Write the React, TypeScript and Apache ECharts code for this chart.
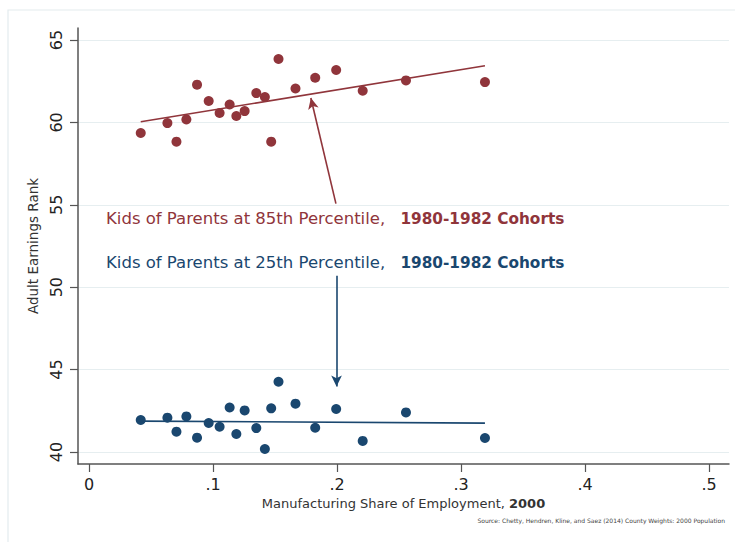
import React, { useEffect, useRef } from 'react';
import * as echarts from 'echarts';

// Manufacturing share of employment (bins)
const shares = [0.0416, 0.0631, 0.0704, 0.0784, 0.087, 0.0964, 0.1052, 0.1133, 0.1187, 0.1254, 0.1348, 0.1417, 0.1468, 0.1527, 0.1664, 0.1823, 0.1992, 0.2206, 0.2555, 0.3192];
// Adult earnings rank, kids of parents at 85th percentile
const rank85 = [59.36, 59.96, 58.83, 60.18, 62.29, 61.3, 60.57, 61.09, 60.39, 60.69, 61.78, 61.54, 58.83, 63.85, 62.06, 62.71, 63.18, 61.92, 62.55, 62.45];
// Adult earnings rank, kids of parents at 25th percentile
const rank25 = [41.94, 42.08, 41.23, 42.16, 40.87, 41.76, 41.53, 42.7, 41.09, 42.52, 41.45, 40.18, 42.65, 44.26, 42.93, 41.47, 42.61, 40.67, 42.4, 40.85];
// Linear fit endpoints
const fit85 = [[0.0416, 60.04], [0.3192, 63.44]];
const fit25 = [[0.0416, 41.87], [0.3192, 41.75]];
// Annotation arrows (tail, head)
const arrow85 = [[0.199, 55.07], [0.1788, 61.48]];
const arrow25 = [[0.1995, 50.69], [0.1995, 43.98]];
// Ticks
const xTicks = [0, 0.1, 0.2, 0.3, 0.4, 0.5];
const xTickLabels = ['0', '.1', '.2', '.3', '.4', '.5'];
const yTicks = [40, 45, 50, 55, 60, 65];
const yTickLabels = ['40', '45', '50', '55', '60', '65'];

const label85 = 'Kids of Parents at 85th Percentile,';
const label25 = 'Kids of Parents at 25th Percentile,';
const cohortLabel = '1980-1982 Cohorts';
const xTitle = 'Manufacturing Share of Employment, ';
const xTitleBold = '2000';
const yTitle = 'Adult Earnings Rank';
const sourceNote = 'Source: Chetty, Hendren, Kline, and Saez (2014) County Weights: 2000 Population';

const RED = '#90353b';
const BLUE = '#1a476f';
const FONT = 'DejaVu Sans';
const AXIS = '#555555';

export default function App() {
  const ref = useRef<HTMLDivElement>(null);
  useEffect(() => {
    if (!ref.current) return;
    const chart = echarts.init(ref.current, null, { renderer: 'svg' });
    const pick = (ticks: number[], labels: string[]) => (v: number) => {
      const i = ticks.findIndex((t) => Math.abs(t - v) < 1e-6);
      return i >= 0 ? labels[i] : '';
    };
    const option: any = {
      animation: false,
      backgroundColor: '#ffffff',
      grid: { left: 78, right: 6, top: 28, bottom: 78, containLabel: false },
      xAxis: {
        type: 'value',
        min: -0.009,
        max: 0.516,
        axisLine: { show: true, onZero: false, lineStyle: { color: AXIS, width: 1.5 } },
        axisTick: { show: true, length: 8, customValues: xTicks, lineStyle: { color: AXIS, width: 1.2 } },
        axisLabel: {
          customValues: xTicks,
          formatter: pick(xTicks, xTickLabels),
          margin: 12,
          fontSize: 16,
          fontFamily: FONT,
          color: '#222',
        },
        splitLine: { show: false },
        name: '{a|' + xTitle + '}{b|' + xTitleBold + '}',
        nameLocation: 'middle',
        nameGap: 31,
        nameTextStyle: {
          rich: {
            a: { fontSize: 13, fontFamily: FONT, color: '#333' },
            b: { fontSize: 13, fontFamily: FONT, fontWeight: 'bold', color: '#333' },
          },
        },
      },
      yAxis: {
        type: 'value',
        min: 39.27,
        max: 65.73,
        axisLine: { show: true, onZero: false, lineStyle: { color: AXIS, width: 1.5 } },
        axisTick: { show: true, length: 8, customValues: yTicks, lineStyle: { color: AXIS, width: 1.2 } },
        axisLabel: {
          customValues: yTicks,
          formatter: pick(yTicks, yTickLabels),
          rotate: 90,
          margin: 14,
          fontSize: 16,
          fontFamily: FONT,
          color: '#222',
        },
        splitLine: { show: true, lineStyle: { color: '#e6eef0', width: 1.2 } },
        name: yTitle,
        nameLocation: 'middle',
        nameGap: 36,
        nameTextStyle: { fontSize: 13.5, fontFamily: FONT, color: '#333' },
      },
      series: [
        {
          type: 'line',
          data: fit85,
          symbol: 'none',
          lineStyle: { color: RED, width: 1.6 },
          silent: true,
          z: 2,
          markLine: {
            silent: true,
            symbol: ['none', 'arrow'],
            symbolSize: [8, 11],
            label: { show: false },
            lineStyle: { color: RED, width: 1.6, type: 'solid' },
            data: [[{ coord: arrow85[0] }, { coord: arrow85[1] }]],
          },
        },
        {
          type: 'line',
          data: fit25,
          symbol: 'none',
          lineStyle: { color: BLUE, width: 1.6 },
          silent: true,
          z: 2,
          markLine: {
            silent: true,
            symbol: ['none', 'arrow'],
            symbolSize: [8, 11],
            label: { show: false },
            lineStyle: { color: BLUE, width: 1.6, type: 'solid' },
            data: [[{ coord: arrow25[0] }, { coord: arrow25[1] }]],
          },
        },
        {
          type: 'scatter',
          data: shares.map((x, i) => [x, rank85[i]]),
          symbol: 'circle',
          symbolSize: 10,
          itemStyle: { color: RED, opacity: 1 },
          z: 3,
        },
        {
          type: 'scatter',
          data: shares.map((x, i) => [x, rank25[i]]),
          symbol: 'circle',
          symbolSize: 10,
          itemStyle: { color: BLUE, opacity: 1 },
          z: 3,
        },
      ],
      graphic: [
        {
          type: 'rect',
          z: -10,
          silent: true,
          shape: { x: 8, y: 10, width: 760, height: 560 },
          style: { fill: 'none', stroke: '#e3ecee', lineWidth: 1.2 },
        },
        {
          type: 'text',
          left: 106,
          top: 210,
          silent: true,
          style: {
            text: '{a|' + label85 + '}{g|   }{b|' + cohortLabel + '}',
            rich: {
              a: { fontSize: 16.5, fontFamily: FONT, fill: RED, color: RED },
              g: { fontSize: 16, fontFamily: FONT },
              b: { fontSize: 15.3, fontFamily: FONT, fontWeight: 'bold', fill: RED, color: RED },
            },
          },
        },
        {
          type: 'text',
          left: 106,
          top: 254,
          silent: true,
          style: {
            text: '{a|' + label25 + '}{g|   }{b|' + cohortLabel + '}',
            rich: {
              a: { fontSize: 16.5, fontFamily: FONT, fill: BLUE, color: BLUE },
              g: { fontSize: 16, fontFamily: FONT },
              b: { fontSize: 15.3, fontFamily: FONT, fontWeight: 'bold', fill: BLUE, color: BLUE },
            },
          },
        },
        {
          type: 'text',
          right: 10,
          top: 517,
          silent: true,
          style: { text: sourceNote, fontSize: 6, fontFamily: FONT, fill: '#444' },
        },
      ],
    };
    chart.setOption(option);
    return () => chart.dispose();
  }, []);
  return (
    <div
      ref={ref}
      style={{ position: 'fixed', left: 0, top: 0, width: 735, height: 542, background: '#fff' }}
    />
  );
}
